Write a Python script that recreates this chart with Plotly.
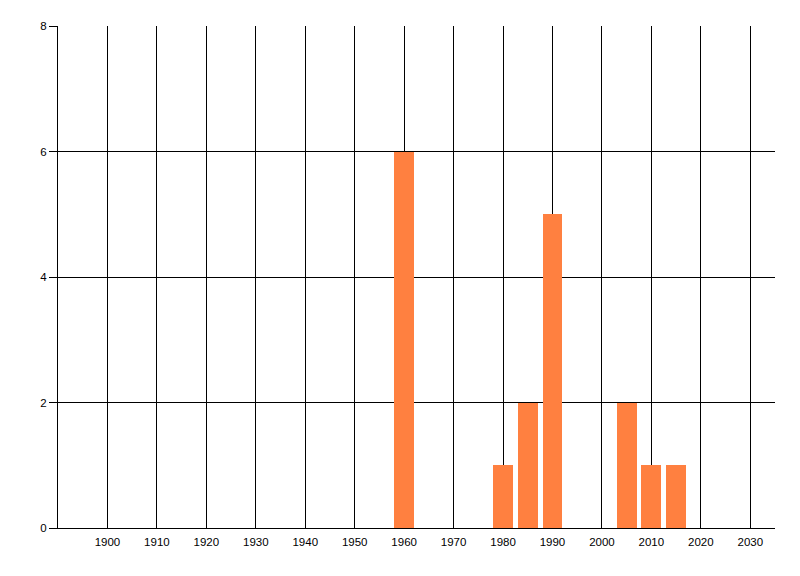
import plotly.graph_objects as go

years = [1960, 1980, 1985, 1990, 2005, 2010, 2015]
counts = [6, 1, 2, 5, 2, 1, 1]
x_ticks = list(range(1900, 2031, 10))
y_ticks = [0, 2, 4, 6, 8]

fig = go.Figure()
fig.add_trace(go.Bar(x=years, y=counts, width=4, marker=dict(color="#FF8040", line=dict(width=0))))

fig.update_layout(
    width=792, height=568,
    margin=dict(l=50, r=25, t=18, b=48),
    paper_bgcolor="white", plot_bgcolor="white",
    font=dict(family="Liberation Sans", size=11.5, color="black"),
    showlegend=False,
    bargap=0,
)
fig.update_xaxes(
    range=[1890, 2035], tickvals=x_ticks, ticktext=[str(t) for t in x_ticks],
    showgrid=True, gridcolor="black", gridwidth=1,
    showline=True, linecolor="black", linewidth=1,
    ticks="", zeroline=False, ticklabelstandoff=3,
)
fig.update_yaxes(
    range=[0, 8], tickvals=y_ticks,
    showgrid=True, gridcolor="black", gridwidth=1,
    showline=True, linecolor="black", linewidth=1,
    ticks="outside", ticklen=8, tickcolor="black", zeroline=False,
)
fig.write_html("out.html")
